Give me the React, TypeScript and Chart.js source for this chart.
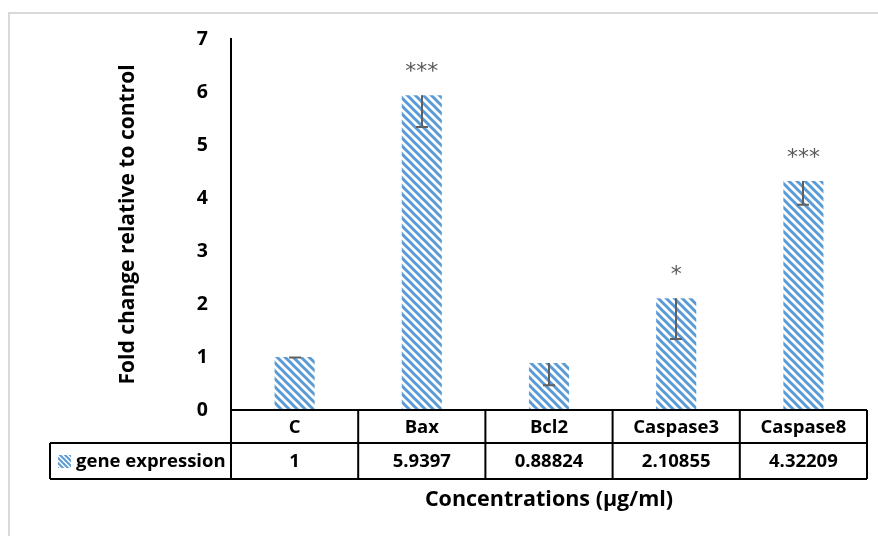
import { useEffect, useRef } from "react";
import { Chart, registerables } from "chart.js";

Chart.register(...registerables);

// Gene expression data
const categories = ["C", "Bax", "Bcl2", "Caspase3", "Caspase8"];
const seriesName = "gene expression";
const values = [1, 5.9397, 0.88824, 2.10855, 4.32209];
const valueLabels = ["1", "5.9397", "0.88824", "2.10855", "4.32209"];
const errors = [0.01, 0.6, 0.42, 0.77, 0.45];
const significance = ["", "***", "", "*", "***"];
const yMin = 0;
const yMax = 7;
const yStep = 1;

const FONT = "'Open Sans', Lato, sans-serif";
const BLUE = "#5b9bd5";

function makeStripes(size: number, lw: number): CanvasPattern | string {
  const c = document.createElement("canvas");
  c.width = size;
  c.height = size;
  const g = c.getContext("2d");
  if (!g) return BLUE;
  g.fillStyle = "#ffffff";
  g.fillRect(0, 0, size, size);
  g.strokeStyle = BLUE;
  g.lineWidth = lw;
  g.lineCap = "square";
  for (const off of [-size, 0, size]) {
    g.beginPath();
    g.moveTo(off, 0);
    g.lineTo(off + size, size);
    g.stroke();
  }
  const p = g.createPattern(c, "repeat");
  return p || BLUE;
}

const decorPlugin = {
  id: "decor",
  beforeDraw(chart: any) {
    const { ctx, width, height } = chart;
    ctx.save();
    ctx.fillStyle = "#ffffff";
    ctx.fillRect(0, 0, width, height);
    ctx.strokeStyle = "#d9d9d9";
    ctx.lineWidth = 2;
    ctx.beginPath();
    ctx.moveTo(9, height + 5);
    ctx.lineTo(9, 13);
    ctx.lineTo(width + 5, 13);
    ctx.stroke();
    ctx.restore();
  },
  afterDatasetsDraw(chart: any) {
    const { ctx } = chart;
    const x = chart.scales.x;
    const y = chart.scales.y;
    ctx.save();
    ctx.strokeStyle = "#606060";
    ctx.lineWidth = 2;
    values.forEach((v, i) => {
      const cx = Math.round(x.getPixelForValue(i));
      const top = y.getPixelForValue(v);
      const bot = y.getPixelForValue(v - errors[i]);
      ctx.beginPath();
      ctx.moveTo(cx, top);
      ctx.lineTo(cx, bot);
      ctx.moveTo(cx - 6, bot);
      ctx.lineTo(cx + 6, bot);
      ctx.stroke();
    });
    ctx.fillStyle = "#595959";
    ctx.font = `22px 'DejaVu Sans', sans-serif`;
    ctx.textAlign = "center";
    ctx.textBaseline = "alphabetic";
    significance.forEach((s, i) => {
      if (!s) return;
      const cx = x.getPixelForValue(i);
      const top = y.getPixelForValue(values[i]);
      ctx.fillText(s, cx, top - 17);
    });
    ctx.restore();
  },
  afterDraw(chart: any) {
    const { ctx, chartArea } = chart;
    const { left, right, bottom } = chartArea;
    const n = categories.length;
    const w = (right - left) / n;
    const r1 = bottom + 33;
    const r2 = r1 + 36;
    const legendLeft = 50;
    ctx.save();
    ctx.strokeStyle = "#000000";
    ctx.lineWidth = 2;
    ctx.beginPath();
    // horizontal rules
    ctx.moveTo(left, bottom);
    ctx.lineTo(right, bottom);
    ctx.moveTo(legendLeft, r1);
    ctx.lineTo(right, r1);
    ctx.moveTo(legendLeft, r2);
    ctx.lineTo(right, r2);
    // verticals
    ctx.moveTo(legendLeft, r1);
    ctx.lineTo(legendLeft, r2);
    ctx.moveTo(left, chartArea.top);
    ctx.lineTo(left, r2);
    for (let i = 1; i <= n; i++) {
      const bx = left + i * w;
      ctx.moveTo(bx, bottom);
      ctx.lineTo(bx, r2);
    }
    ctx.stroke();

    ctx.fillStyle = "#000000";
    ctx.font = `bold 18.5px ${FONT}`;
    ctx.textAlign = "center";
    ctx.textBaseline = "middle";
    categories.forEach((c, i) => {
      const cx = left + (i + 0.5) * w;
      ctx.fillText(c, cx, (bottom + r1) / 2 + 1);
      ctx.fillText(valueLabels[i], cx, (r1 + r2) / 2 + 1);
    });

    // legend key
    const sw = makeStripes(5, 2);
    ctx.fillStyle = sw;
    ctx.fillRect(58, 455, 13, 13);
    ctx.fillStyle = "#000000";
    ctx.textAlign = "left";
    ctx.fillText(seriesName, 76, (r1 + r2) / 2 + 1);

    // category axis title
    ctx.font = `bold 21.5px ${FONT}`;
    ctx.textAlign = "center";
    ctx.fillText("Concentrations (µg/ml)", (left + right) / 2, 500);
    ctx.restore();
  },
};

export default function App() {
  const ref = useRef<HTMLCanvasElement | null>(null);

  useEffect(() => {
    if (!ref.current) return;
    const pattern = makeStripes(8, 3);
    const chart = new Chart(ref.current, {
      type: "bar",
      data: {
        labels: categories,
        datasets: [
          {
            label: seriesName,
            data: values,
            backgroundColor: pattern as any,
            borderWidth: 0,
            barPercentage: 0.315,
            categoryPercentage: 1,
          },
        ],
      },
      options: {
        animation: false,
        responsive: false,
        maintainAspectRatio: false,
        layout: { padding: { left: 0, right: 11, top: 39, bottom: 126 } },
        plugins: {
          legend: { display: false },
          tooltip: { enabled: false },
        },
        scales: {
          x: { display: false },
          y: {
            min: yMin,
            max: yMax,
            afterFit(scale: any) {
              scale.width = 231;
            },
            ticks: {
              stepSize: yStep,
              padding: 23,
              color: "#000000",
              font: { family: FONT, size: 19.5, weight: "bold" },
            },
            grid: { display: false, drawTicks: false },
            border: { display: true, color: "#000000", width: 2 },
            title: {
              display: true,
              text: "Fold change relative to control",
              color: "#000000",
              font: { family: FONT, size: 21, weight: "bold" },
              padding: { top: 115, bottom: 0 },
            },
          },
        },
      },
      plugins: [decorPlugin],
    });
    return () => chart.destroy();
  }, []);

  return (
    <div style={{ position: "fixed", left: 0, top: 0, width: 878, height: 536, background: "#fff" }}>
      <canvas ref={ref} width={878} height={536} style={{ display: "block", width: 878, height: 536 }} />
    </div>
  );
}
